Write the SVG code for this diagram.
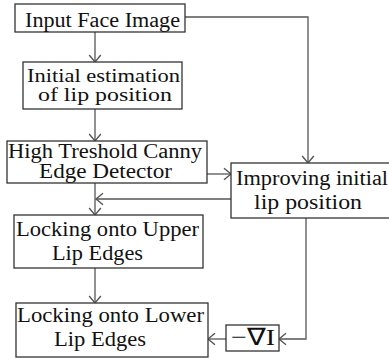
<svg xmlns="http://www.w3.org/2000/svg" width="389" height="358" viewBox="0 0 389 358">
<style>
.box{fill:#fff;stroke:#333;stroke-width:1.3}
.c{fill:none;stroke:#555;stroke-width:1.3}
</style>
<defs>
<marker id="a" markerUnits="userSpaceOnUse" markerWidth="14" markerHeight="14" refX="9" refY="6" orient="auto" viewBox="0 0 12 12">
<polyline points="3,1 9,6 3,11" fill="none" stroke="#555" stroke-width="1.2"/>
</marker>
</defs>
<rect width="389" height="358" fill="#fff"/>
<g id="connectors">
<path class="c" d="M95,32 V62" marker-end="url(#a)"/>
<path class="c" d="M185,17 H308 V163" marker-end="url(#a)"/>
<path class="c" d="M95,109 V141" marker-end="url(#a)"/>
<path class="c" d="M207,174 H231" marker-end="url(#a)"/>
<path class="c" d="M231,199 H96" marker-end="url(#a)"/>
<path class="c" d="M95,183 V215" marker-end="url(#a)"/>
<path class="c" d="M95,268 V303" marker-end="url(#a)"/>
<path class="c" d="M306,218 V339 H279" marker-end="url(#a)"/>
<path class="c" d="M226,339 H208" marker-end="url(#a)"/>
</g>
<g font-family="Liberation Serif" font-size="20" fill="#111">
<g id="input">
<rect class="box" x="15" y="4" width="170" height="28"/>
<text x="25" y="27" textLength="155" lengthAdjust="spacingAndGlyphs">Input Face Image</text>
</g>
<g id="initial">
<rect class="box" x="23" y="62" width="159" height="47"/>
<text font-size="19" x="27" y="82" textLength="153" lengthAdjust="spacingAndGlyphs">Initial estimation</text>
<text font-size="19" x="38" y="101" textLength="134" lengthAdjust="spacingAndGlyphs">of  lip position</text>
</g>
<g id="canny">
<rect class="box" x="7" y="141" width="200" height="42"/>
<text x="8" y="158" textLength="194" lengthAdjust="spacingAndGlyphs">High Treshold Canny</text>
<text x="39" y="178" textLength="133" lengthAdjust="spacingAndGlyphs">Edge Detector</text>
</g>
<g id="improving">
<rect class="box" x="231" y="163" width="165" height="55"/>
<text x="236" y="185" textLength="152" lengthAdjust="spacingAndGlyphs">Improving initial</text>
<text x="254" y="209" textLength="108" lengthAdjust="spacingAndGlyphs">lip position</text>
</g>
<g id="upper">
<rect class="box" x="14" y="215" width="189" height="53"/>
<text x="16" y="236" textLength="183" lengthAdjust="spacingAndGlyphs">Locking onto Upper</text>
<text x="52" y="260" textLength="91" lengthAdjust="spacingAndGlyphs">Lip Edges</text>
</g>
<g id="lower">
<rect class="box" x="16" y="303" width="192" height="54"/>
<text x="17" y="322" textLength="187" lengthAdjust="spacingAndGlyphs">Locking onto Lower</text>
<text x="54" y="346" textLength="92" lengthAdjust="spacingAndGlyphs">Lip Edges</text>
</g>
<g id="grad">
<rect class="box" x="226" y="325" width="53" height="26"/>
<text x="231" y="345" font-size="24" textLength="44" lengthAdjust="spacingAndGlyphs">−∇I</text>
</g>
</g>
</svg>
